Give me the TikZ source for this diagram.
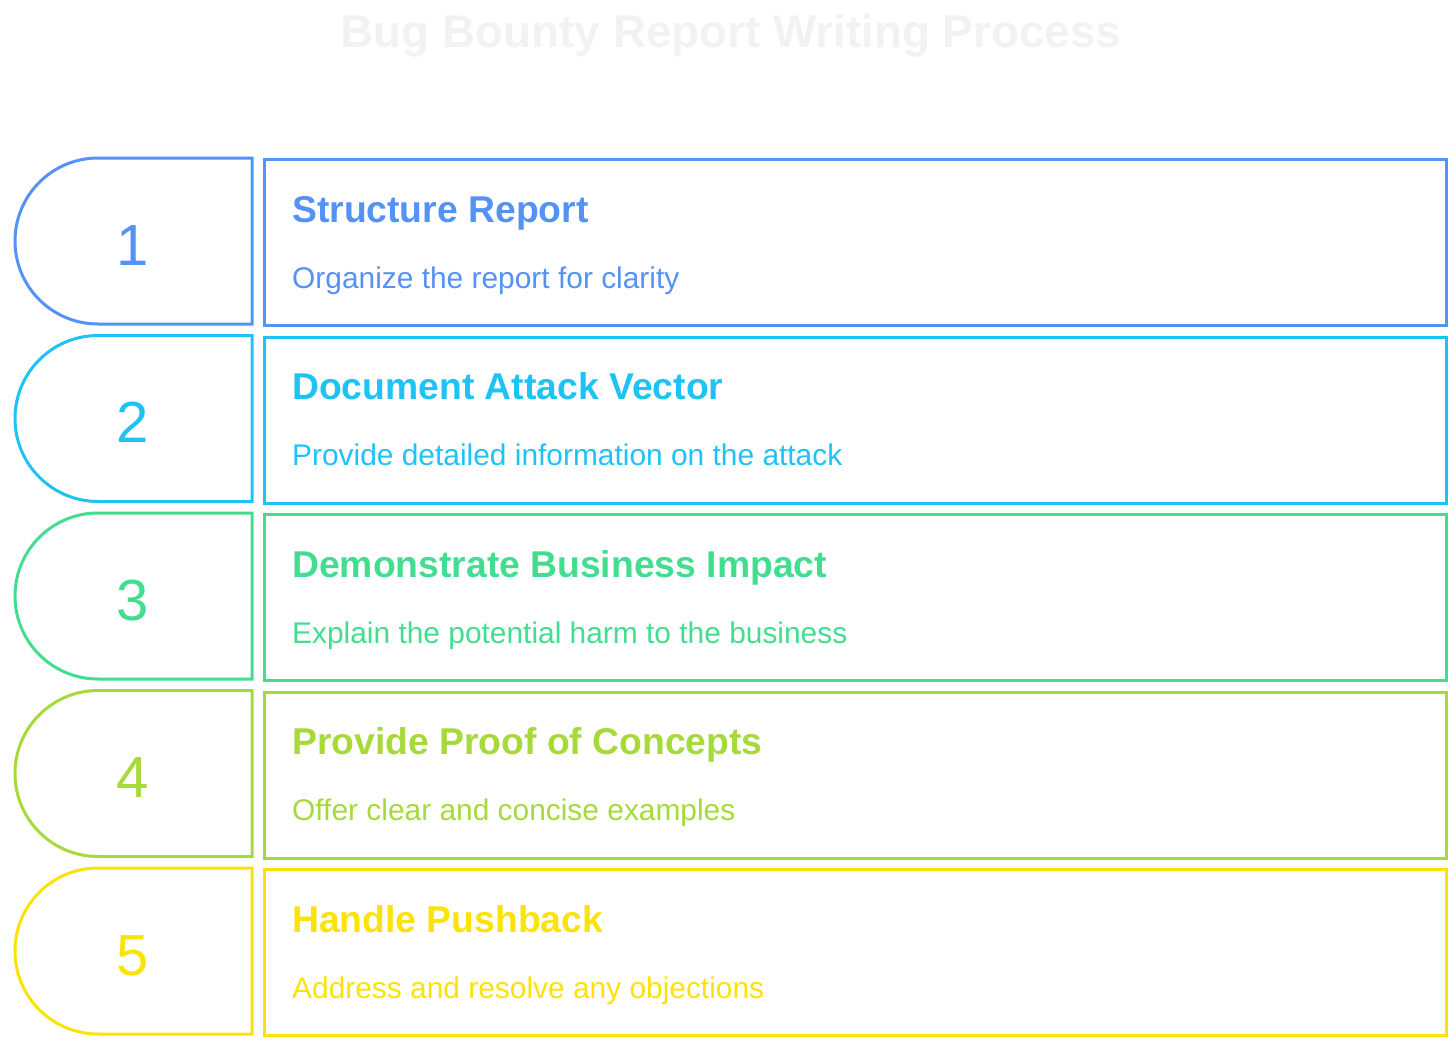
\documentclass[tikz,border=0pt]{standalone}
\usepackage{fontspec}
\setmainfont{Liberation Sans}
\definecolor{cA}{HTML}{5592F5}
\definecolor{cB}{HTML}{1EC3F5}
\definecolor{cC}{HTML}{42DD8F}
\definecolor{cD}{HTML}{A6D93A}
\definecolor{cE}{HTML}{FBE207}
\definecolor{titlegray}{HTML}{F2F2F2}
\tikzset{
  tab/.style={line width=3pt},
  panel/.style={line width=3pt, rectangle, minimum width=1182pt, minimum height=166pt, anchor=north west, inner sep=0pt},
  numtext/.style={inner sep=0pt, anchor=base, font=\fontsize{58}{60}\selectfont},
  headtext/.style={inner sep=0pt, anchor=base west, font=\fontsize{37.3}{42}\selectfont\bfseries},
  desctext/.style={inner sep=0pt, anchor=base west, font=\fontsize{29.9}{34}\selectfont},
  titletext/.style={inner sep=0pt, anchor=base, text=titlegray, font=\fontsize{45.8}{50}\selectfont\bfseries}
}
\begin{document}
\begin{tikzpicture}[x=1pt,y=1pt]
\useasboundingbox (0,0) rectangle (1456,-1044);
\node[titletext] (title) at (731,-47) {Bug Bounty Report Writing Process};
\foreach \i/\t/\c/\h/\d in {
  1/158/cA/Structure Report/Organize the report for clarity,
  2/335.5/cB/Document Attack Vector/Provide detailed information on the attack,
  3/513/cC/Demonstrate Business Impact/Explain the potential harm to the business,
  4/690.5/cD/Provide Proof of Concepts/Offer clear and concise examples,
  5/868/cE/Handle Pushback/Address and resolve any objections}{
  \draw[tab, draw=\c] (252,-\t) -- (98,-\t) arc[start angle=90, end angle=270, radius=83] -- (252,-\t-166) -- cycle;
  \node[panel, draw=\c] (box\i) at (263,-\t) {};
  \node[numtext, text=\c] (num\i) at (133,-\t-107) {\i};
  \node[headtext, text=\c] (head\i) at (292,-\t-64) {\h};
  \node[desctext, text=\c] (desc\i) at (292,-\t-130) {\d};
}
\end{tikzpicture}
\end{document}
